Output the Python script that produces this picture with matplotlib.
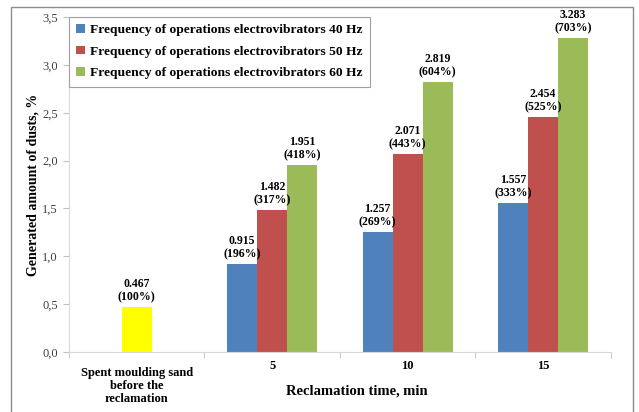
import matplotlib.pyplot as plt
from matplotlib.patches import Rectangle
import numpy as np

categories = ["Spent moulding sand\nbefore the\nreclamation", "5", "10", "15"]
base_value = 0.467
base_pct = "100%"
series_names = [
    "Frequency of operations electrovibrators 40 Hz",
    "Frequency of operations electrovibrators 50 Hz",
    "Frequency of operations electrovibrators 60 Hz",
]
values_40 = [0.915, 1.257, 1.557]
values_50 = [1.482, 2.071, 2.454]
values_60 = [1.951, 2.819, 3.283]
pct_40 = ["196%", "269%", "333%"]
pct_50 = ["317%", "443%", "525%"]
pct_60 = ["418%", "604%", "703%"]

colors = ["#4F81BD", "#C0504D", "#9BBB59"]
SERIF = "Liberation Serif"

plt.rcParams["font.family"] = SERIF

fig = plt.figure(figsize=(6.39, 4.12), dpi=100)
ax = fig.add_axes([0.108, 0.1456, 0.848, 0.813])

# outer frame around the figure
fig.patches.append(Rectangle((11 / 639, -0.05), 622 / 639, 1.05 - 7 / 412,
                             transform=fig.transFigure, fill=False,
                             edgecolor="#8c8c8c", linewidth=1.0))

width = 0.222
x = np.arange(len(categories))
label_kw = dict(ha="center", va="bottom", fontsize=8.5, fontweight="bold",
                linespacing=1.15)

ax.bar(x[0], base_value, width, color="#FFFF00")
ax.text(x[0], base_value + 0.04, f"{base_value:.3f}\n({base_pct})", **label_kw)

series = [(values_40, pct_40), (values_50, pct_50), (values_60, pct_60)]
for i, (vals, pcts) in enumerate(series):
    pos = x[1:] + (i - 1) * width
    ax.bar(pos, vals, width, color=colors[i], label=series_names[i])
    for p, v, pc in zip(pos, vals, pcts):
        ax.text(p, v + 0.04, f"{v:.3f}\n({pc})", **label_kw)

ax.set_xlim(-0.5, 3.5)
ax.set_ylim(0, 3.5)
ax.set_yticks(np.arange(0, 3.51, 0.5))
ax.set_yticklabels([f"{t:.1f}".replace(".", ",") for t in np.arange(0, 3.51, 0.5)],
                   fontsize=9, color="#404040")
ax.set_xticks(x)
ax.set_xticklabels(categories, fontsize=9, fontweight="bold", linespacing=1.1)
ax.get_xticklabels()[0].set_y(-0.02)
ax.set_xticks(np.arange(-0.5, 3.6, 1), minor=True)
ax.tick_params(axis="x", which="major", length=0, pad=6)
ax.tick_params(axis="x", which="minor", length=4, color="#bfbfbf")
ax.tick_params(axis="y", length=4, color="#bfbfbf", pad=4)

for side in ["top", "right"]:
    ax.spines[side].set_visible(False)
ax.spines["left"].set_color("#d9d9d9")
ax.spines["bottom"].set_color("#d9d9d9")

ax.set_ylabel("Generated amount of dusts, %", fontsize=10, fontweight="bold",
              labelpad=2)
fig.text(357 / 639, 1 - 391 / 412, "Reclamation time, min", fontsize=10.5,
         fontweight="bold", ha="center", va="center")

leg = ax.legend(loc="upper left", bbox_to_anchor=(0.0, 1.0), borderaxespad=0,
                prop={"weight": "bold", "size": 9.7}, handlelength=0.6,
                handleheight=0.6, handletextpad=0.4, borderpad=0.55,
                labelspacing=0.7, fancybox=False, framealpha=1)
leg.get_frame().set_edgecolor("#a0a0a0")
leg.get_frame().set_linewidth(0.8)

fig.savefig("out.png", dpi=100)
